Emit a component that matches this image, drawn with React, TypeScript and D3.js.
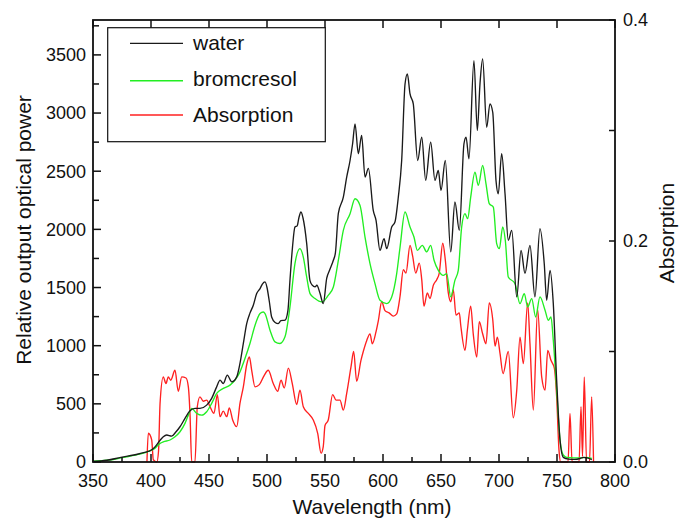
import React from "react";
import * as d3 from "d3";

// ---------- data ----------
const waterNm = [350, 362, 374, 389, 397, 399, 403, 408, 410.6, 413.5, 417.8, 421.6, 425, 429.3, 433.6, 437.9, 442.2, 448, 452.3, 456.6, 459.5, 462.3, 465.8, 469.6, 473.9, 476.7, 479.6, 482.5, 485.3, 488.2, 491.1, 494, 496, 498.3, 500, 502, 504, 507, 509.7, 512, 515.5, 518, 519.8, 522, 524.1, 526, 527.5, 529.3, 531, 534.2, 537, 539, 541.4, 543, 545.7, 548.5, 551.5, 554, 557.2, 559, 561.5, 565.8, 568.7, 571.6, 573.8, 575.9, 578.7, 581.6, 584.5, 587.4, 591.6, 594, 597.4, 600.9, 603.2, 607.5, 610.3, 613.2, 616.1, 619, 621, 623.3, 626.1, 629.9, 633.4, 636.8, 641.1, 644.8, 647.7, 650, 653.7, 658.4, 662, 665.8, 669.8, 671.6, 674.1, 678.4, 681.3, 683.6, 685.9, 689.4, 692.2, 694.6, 697.4, 699.4, 702.3, 705.2, 708, 711, 715.3, 719, 722.4, 726.7, 731, 735.3, 739, 741.1, 744, 746.8, 749.7, 752.6, 755.4, 760, 765, 770, 773, 776, 780];
const waterPower = [5, 15, 40, 69, 90, 95, 125, 189, 217, 232, 223, 260, 303, 375, 440, 461, 461, 489, 547, 646, 704, 675, 747, 689, 732, 847, 1019, 1190, 1280, 1348, 1448, 1491, 1530, 1548, 1500, 1380, 1247, 1200, 1190, 1215, 1219, 1300, 1562, 1850, 2020, 2030, 2100, 2149, 2100, 1880, 1562, 1520, 1505, 1520, 1450, 1362, 1580, 1650, 1734, 1800, 2137, 2277, 2449, 2592, 2736, 2907, 2650, 2807, 2450, 2524, 2163, 2077, 1820, 1920, 1834, 2020, 2063, 2277, 2592, 3250, 3336, 3164, 3079, 2592, 2792, 2421, 2750, 2421, 2506, 2335, 2592, 1806, 2235, 1991, 2736, 2792, 2607, 3451, 2850, 3250, 3465, 2878, 3079, 3007, 2421, 2306, 2650, 2306, 1906, 1991, 1419, 1820, 1622, 1863, 1419, 2006, 1706, 1391, 1648, 1362, 704, 189, 40, 25, 22, 30, 40, 35, 20];

const bromNm = [350, 362, 374, 389, 397, 403, 407.8, 410.6, 416.4, 420.7, 425, 429.3, 432.2, 435.1, 439.4, 443.7, 448, 452.3, 456.6, 462.3, 468.1, 472.4, 476.7, 481, 485.3, 489.7, 494, 496.8, 498.3, 502.6, 506.9, 511.2, 515.5, 519.8, 524.1, 528.4, 531.3, 534.2, 537.1, 541.4, 547.2, 552.8, 557.2, 561.5, 565.8, 571.6, 575.9, 580.2, 584.5, 588.8, 593.1, 597.4, 603.2, 607.5, 611.8, 614.7, 619, 623.3, 626.7, 629.6, 633.9, 637.7, 641.1, 644, 647.7, 652, 654.9, 658.4, 662, 664.9, 667.8, 670.7, 673, 675.6, 679.3, 682.2, 685.9, 688.8, 691.6, 695.1, 698, 700.3, 703.2, 705.5, 708, 713.8, 718.1, 721.8, 724.7, 728.2, 731.6, 735.3, 739.7, 742.5, 744.8, 746.8, 749.7, 752.6, 755.4, 758.4, 770, 775, 780];
const bromPower = [8, 15, 35, 65, 88, 115, 160, 174, 189, 217, 260, 332, 403, 461, 418, 403, 432, 504, 590, 633, 661, 704, 775, 890, 1019, 1176, 1276, 1290, 1276, 1133, 1033, 1019, 1076, 1333, 1706, 1834, 1762, 1591, 1448, 1405, 1376, 1433, 1505, 1734, 1991, 2135, 2263, 2206, 1934, 1706, 1534, 1391, 1362, 1419, 1620, 1848, 2149, 2020, 1934, 1820, 1863, 1806, 1863, 1734, 1648, 1605, 1620, 1419, 1562, 1648, 2020, 2135, 2092, 2277, 2492, 2378, 2549, 2392, 2221, 2192, 1877, 1834, 2020, 1900, 1591, 1534, 1362, 1448, 1333, 1405, 1247, 1419, 1305, 1219, 1247, 1047, 618, 189, 60, 40, 35, 40, 30];

const absNm = [396.5, 397.7, 400.6, 402, 405, 406.5, 407.8, 410.6, 412.9, 414.9, 417, 420.7, 423.5, 426.5, 430.2, 432.2, 433.6, 435.1, 437.9, 439.9, 442.2, 445.1, 448, 450.9, 454.3, 457.2, 459.5, 462.3, 465.3, 467.5, 470.4, 473.9, 476.7, 479.6, 482.5, 484.8, 486.8, 489.7, 493.4, 497.4, 501.1, 505.4, 509.2, 512.1, 514.9, 518.4, 521.8, 525.6, 528.4, 531.3, 535.6, 539.9, 543.7, 546.6, 548.5, 550, 552.8, 556.6, 559.5, 562.9, 565.8, 568.7, 572.4, 574.7, 577.3, 581, 583, 586, 588.8, 590.8, 594, 596, 598.9, 601.7, 605.2, 608.9, 611.8, 614.7, 617.5, 619.8, 623.3, 625.6, 628.2, 631.3, 633.4, 635.3, 638.2, 640.5, 643.4, 646.3, 648.5, 651.5, 653.7, 656.3, 658.4, 660.6, 662.9, 665.8, 667, 670.7, 672.7, 675.6, 677.8, 680.8, 683, 685.9, 688.8, 691.6, 694.6, 696.6, 698.6, 700.9, 703.5, 708, 712.3, 715.3, 718.1, 721, 724.7, 726.7, 729.6, 733.3, 736.8, 739.7, 742, 744.8, 747.7, 749.7, 751.7, 753.2, 759.5, 761.2, 763, 769, 770.7, 772, 773.5, 775.5, 778, 779.9, 781.5];
const absValue = [0, 0.026, 0.02, 0.002, 0, 0.01, 0.053, 0.077, 0.071, 0.077, 0.074, 0.083, 0.064, 0.077, 0.076, 0.068, 0.044, 0, 0, 0.05, 0.059, 0.055, 0.056, 0.05, 0.044, 0.061, 0.041, 0.046, 0.041, 0.049, 0.038, 0.032, 0.053, 0.068, 0.088, 0.095, 0.083, 0.068, 0.07, 0.078, 0.083, 0.071, 0.064, 0.074, 0.067, 0.085, 0.071, 0.052, 0.065, 0.05, 0.044, 0.038, 0.026, 0.008, 0.014, 0.033, 0.038, 0.061, 0.056, 0.056, 0.047, 0.062, 0.086, 0.1, 0.073, 0.092, 0.1, 0.11, 0.116, 0.107, 0.118, 0.128, 0.145, 0.137, 0.135, 0.132, 0.134, 0.15, 0.174, 0.171, 0.196, 0.186, 0.171, 0.18, 0.165, 0.141, 0.153, 0.148, 0.16, 0.165, 0.171, 0.198, 0.183, 0.153, 0.145, 0.156, 0.133, 0.135, 0.124, 0.101, 0.119, 0.141, 0.116, 0.095, 0.127, 0.116, 0.107, 0.144, 0.129, 0.105, 0.113, 0.098, 0.08, 0.1, 0.04, 0.065, 0.113, 0.089, 0.144, 0.107, 0.047, 0.138, 0.077, 0.065, 0.101, 0.092, 0.085, 0.059, 0.011, 0, 0, 0.044, 0, 0, 0.05, 0.005, 0.077, 0, 0, 0.059, 0];

const xTicks = [350, 400, 450, 500, 550, 600, 650, 700, 750, 800];
const xMinorTicks = [375, 425, 475, 525, 575, 625, 675, 725, 775];
const yLeftTicks = [0, 500, 1000, 1500, 2000, 2500, 3000, 3500];
const yLeftMinorTicks = [250, 750, 1250, 1750, 2250, 2750, 3250, 3750];
const yRightTicks = [0, 0.2, 0.4];
const yRightMinorTicks = [0.1, 0.3];
const yRightLabels = ["0.0", "0.2", "0.4"];

const seriesNames = ["water", "bromcresol", "Absorption"];
const seriesColors = ["#1a1a1a", "#22ee22", "#ff2020"];

// ---------- layout ----------
const W = 688, H = 519;
const L = 93, R = 615, T = 20, B = 462;
const FONT = "'Liberation Sans', Arial, Helvetica, sans-serif";

export default function App() {
  const x = d3.scaleLinear().domain([350, 800]).range([L, R]);
  const yL = d3.scaleLinear().domain([0, 3800]).range([B, T]);
  const yR = d3.scaleLinear().domain([0, 0.4]).range([B, T]);

  const lineL = d3.line<[number, number]>().x(d => x(d[0])).y(d => yL(d[1])).curve(d3.curveMonotoneX);
  const lineR = d3.line<[number, number]>().x(d => x(d[0])).y(d => yR(d[1])).curve(d3.curveMonotoneX);

  const waterPts = waterNm.map((n, i) => [n, waterPower[i]] as [number, number]);
  const bromPts = bromNm.map((n, i) => [n, bromPower[i]] as [number, number]);
  const absPts = absNm.map((n, i) => [n, absValue[i]] as [number, number]);

  const legendRows = [43.3, 80.7, 115];
  const legendBase = [50, 86, 122];

  return (
    <svg width={W} height={H} style={{ position: "absolute", left: 0, top: 0, background: "#fff" }} fontFamily={FONT}>
      <rect x={0} y={0} width={W} height={H} fill="#fff" />
      {/* data */}
      <path d={lineR(absPts) || ""} fill="none" stroke={seriesColors[2]} strokeWidth={1.35} />
      <path d={lineL(bromPts) || ""} fill="none" stroke={seriesColors[1]} strokeWidth={1.35} />
      <path d={lineL(waterPts) || ""} fill="none" stroke={seriesColors[0]} strokeWidth={1.35} />

      {/* frame */}
      <rect x={L} y={T} width={R - L} height={B - T} fill="none" stroke="#111" strokeWidth={1.8} />

      {/* bottom ticks */}
      {xTicks.map(t => (
        <g key={"xb" + t}>
          <line x1={x(t)} x2={x(t)} y1={B} y2={B - 8} stroke="#111" strokeWidth={1.5} />
          <line x1={x(t)} x2={x(t)} y1={T} y2={T + 8} stroke="#111" strokeWidth={1.5} />
          <text x={x(t)} y={487} textAnchor="middle" fontSize={18} fill="#111">{t}</text>
        </g>
      ))}
      {xMinorTicks.map(t => (
        <line key={"xm" + t} x1={x(t)} x2={x(t)} y1={B} y2={B - 5} stroke="#111" strokeWidth={1.5} />
      ))}

      {/* left ticks */}
      {yLeftTicks.map(t => (
        <g key={"yl" + t}>
          <line x1={L} x2={L + 8} y1={yL(t)} y2={yL(t)} stroke="#111" strokeWidth={1.5} />
          <text x={86} y={yL(t)} dy="0.35em" textAnchor="end" fontSize={18} fill="#111">{t}</text>
        </g>
      ))}
      {yLeftMinorTicks.map(t => (
        <line key={"ylm" + t} x1={L} x2={L + 6} y1={yL(t)} y2={yL(t)} stroke="#111" strokeWidth={1.5} />
      ))}

      {/* right ticks */}
      {yRightTicks.map((t, i) => (
        <g key={"yr" + t}>
          <line x1={R} x2={R - 6} y1={yR(t)} y2={yR(t)} stroke="#111" strokeWidth={1.5} />
          <text x={623} y={yR(t)} dy="0.35em" textAnchor="start" fontSize={18} fill="#111">{yRightLabels[i]}</text>
        </g>
      ))}
      {yRightMinorTicks.map(t => (
        <line key={"yrm" + t} x1={R} x2={R - 6} y1={yR(t)} y2={yR(t)} stroke="#111" strokeWidth={1.5} />
      ))}

      {/* axis titles */}
      <text x={372} y={514} textAnchor="middle" fontSize={21} fill="#111">Wavelength (nm)</text>
      <text transform={`translate(31,230) rotate(-90)`} textAnchor="middle" fontSize={21} fill="#111">Relative output optical power</text>
      <text transform={`translate(674,233) rotate(-90)`} textAnchor="middle" fontSize={21} fill="#111">Absorption</text>

      {/* legend */}
      <rect x={107.7} y={27.7} width={217.6} height={114} fill="#fff" stroke="#111" strokeWidth={1.2} />
      {seriesNames.map((n, i) => (
        <g key={n}>
          <line x1={130} x2={183} y1={legendRows[i]} y2={legendRows[i]} stroke={seriesColors[i]} strokeWidth={1.35} />
          <text x={193} y={legendBase[i]} fontSize={21} fill="#111">{n}</text>
        </g>
      ))}
    </svg>
  );
}
